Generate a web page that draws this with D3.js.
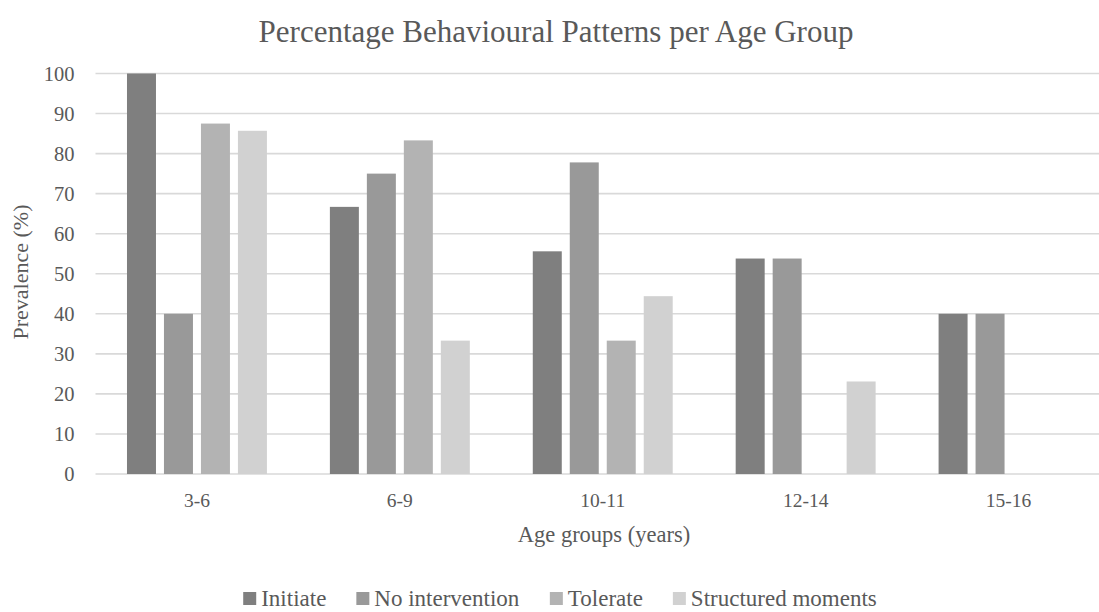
<!DOCTYPE html>
<html>
<head>
<meta charset="utf-8">
<script src="https://cdn.jsdelivr.net/npm/d3@7"></script>
<style>
  body { margin: 0; background: #fff; }
  text { font-family: "Liberation Serif", "Times New Roman", serif; fill: #595959; }
</style>
</head>
<body>
<div id="chart"></div>
<script>
// age groups on the x axis
const categories = ["3-6", "6-9", "10-11", "12-14", "15-16"];
const seriesNames = ["Initiate", "No intervention", "Tolerate", "Structured moments"];
// prevalence (%) per series, one value per age group
const initiate = [100, 66.7, 55.6, 53.8, 40];
const noIntervention = [40, 75, 77.8, 53.8, 40];
const tolerate = [87.5, 83.3, 33.3, 0, 0];
const structured = [85.7, 33.3, 44.4, 23.1, 0];
const yTicks = [0, 10, 20, 30, 40, 50, 60, 70, 80, 90, 100];
const colors = ["#7f7f7f", "#999999", "#b3b3b3", "#d1d1d1"];

const width = 1099, height = 612;
const plotLeft = 95.5, plotRight = 1110, plotTop = 73.5, plotBottom = 474;

const values = [initiate, noIntervention, tolerate, structured];
const rows = categories.map((c, i) => ({
    cat: c,
    vals: seriesNames.map((s, j) => ({ key: s, value: values[j][i] }))
}));

const svg = d3.select("#chart").append("svg")
    .attr("width", width)
    .attr("height", height);

const x = d3.scaleBand().domain(categories).range([plotLeft, plotRight])
    .paddingInner(63 / 203).paddingOuter(63 / 203 / 2);
const xs = d3.scaleBand().domain(seriesNames).range([0, x.bandwidth()])
    .paddingInner(8 / 37);
const y = d3.scaleLinear().domain([0, 100]).range([plotBottom, plotTop]);
const color = d3.scaleOrdinal().domain(seriesNames).range(colors);

// gridlines
svg.append("g")
    .selectAll("line")
    .data(yTicks)
    .join("line")
    .attr("x1", plotLeft).attr("x2", width)
    .attr("y1", d => y(d)).attr("y2", d => y(d))
    .attr("stroke", "#d9d9d9")
    .attr("stroke-width", 1.6);

// y axis labels
const yAxis = svg.append("g")
    .attr("transform", `translate(${plotLeft}, 0)`)
    .call(d3.axisLeft(y).tickValues(yTicks).tickSize(0).tickPadding(21));
yAxis.select(".domain").remove();
yAxis.selectAll("text")
    .style("font-family", "'Liberation Serif', serif")
    .style("font-size", "20.5px")
    .attr("fill", "#595959");

// bars
const g = svg.append("g").selectAll("g")
    .data(rows)
    .join("g")
    .attr("transform", d => `translate(${x(d.cat)}, 0)`);
g.selectAll("rect")
    .data(d => d.vals.filter(v => v.value > 0))
    .join("rect")
    .attr("x", d => xs(d.key))
    .attr("y", d => y(d.value))
    .attr("width", xs.bandwidth())
    .attr("height", d => y(0) - y(d.value))
    .attr("fill", d => color(d.key));

// x axis labels
const xAxis = svg.append("g")
    .attr("transform", `translate(0, ${plotBottom})`)
    .call(d3.axisBottom(x).tickSize(0).tickPadding(19));
xAxis.select(".domain").remove();
xAxis.selectAll("text")
    .style("font-family", "'Liberation Serif', serif")
    .style("font-size", "19.5px")
    .attr("fill", "#595959");

// titles
svg.append("text")
    .attr("x", 556).attr("y", 42)
    .attr("text-anchor", "middle")
    .style("font-size", "31px")
    .text("Percentage Behavioural Patterns per Age Group");

svg.append("text")
    .attr("x", 604).attr("y", 542)
    .attr("text-anchor", "middle")
    .style("font-size", "22.5px")
    .text("Age groups (years)");

svg.append("text")
    .attr("transform", "translate(28, 272) rotate(-90)")
    .attr("text-anchor", "middle")
    .style("font-size", "22px")
    .text("Prevalence (%)");

// legend
const legend = svg.append("g");
const items = legend.selectAll("g")
    .data(seriesNames)
    .join("g");
items.append("rect")
    .attr("y", -14).attr("width", 13).attr("height", 13)
    .attr("fill", d => color(d));
items.append("text")
    .attr("x", 18)
    .style("font-size", "23px")
    .text(d => d);
let pos = 0;
const gap = 30;
items.each(function () {
    const w = this.getBBox().width;
    d3.select(this).attr("transform", `translate(${pos}, 0)`);
    pos += w + gap;
});
legend.attr("transform", `translate(${560 - (pos - gap) / 2}, 606)`);
</script>
</body>
</html>
